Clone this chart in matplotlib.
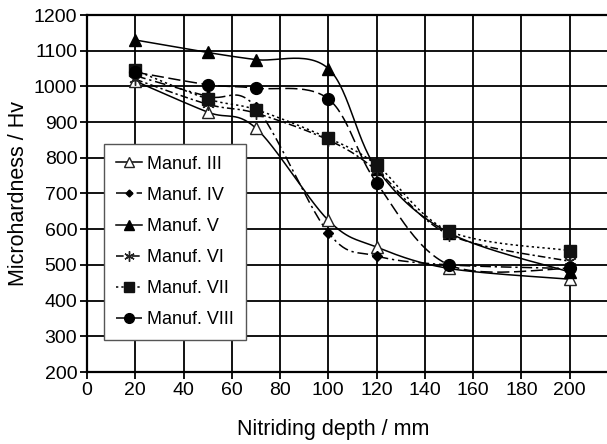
import matplotlib.pyplot as plt
import numpy as np

plt.rcParams['font.family'] = ['Liberation Sans', 'DejaVu Sans']

depth = [20, 50, 70, 100, 120, 150, 200]
manuf_3 = [1015, 928, 883, 625, 550, 490, 460]
manuf_4 = [1030, 972, 942, 590, 525, 500, 490]
manuf_5 = [1130, 1095, 1075, 1050, 770, 590, 480]
manuf_6 = [1020, 950, 925, 850, 765, 585, 510]
manuf_7 = [1045, 965, 935, 855, 780, 595, 540]
manuf_8 = [1040, 1005, 995, 965, 730, 500, 490]
labels = ['Manuf. III', 'Manuf. IV', 'Manuf. V', 'Manuf. VI', 'Manuf. VII', 'Manuf. VIII']


def smooth(x, y, n=30):
    # spreadsheet-style smoothed line (Catmull-Rom bezier), only for drawing
    x = np.asarray(x, float)
    y = np.asarray(y, float)
    px = np.concatenate([[x[0]], x, [x[-1]]])
    py = np.concatenate([[y[0]], y, [y[-1]]])
    xs, ys = [], []
    t = np.linspace(0, 1, n)
    for i in range(1, len(px) - 2):
        p0 = np.array([px[i], py[i]])
        p3 = np.array([px[i + 1], py[i + 1]])
        p1 = p0 + (p3 - np.array([px[i - 1], py[i - 1]])) / 6
        p2 = p3 - (np.array([px[i + 2], py[i + 2]]) - p0) / 6
        b = ((1 - t) ** 3)[:, None] * p0 + (3 * (1 - t) ** 2 * t)[:, None] * p1 \
            + (3 * (1 - t) * t ** 2)[:, None] * p2 + (t ** 3)[:, None] * p3
        xs.extend(b[:, 0])
        ys.extend(b[:, 1])
    return xs, ys


fig = plt.figure(figsize=(6.07, 4.44), dpi=100)
ax = fig.add_axes([87 / 607, 1 - 372 / 444, 1 - 87 / 607 + 0.002, (372 - 15) / 444])

series = [
    (manuf_3, dict(marker='^', ms=8, mfc='white', mec='#222222', ls='-')),
    (manuf_4, dict(marker='D', ms=5, mfc='black', mec='black', ls=(0, (7, 2.5, 1.5, 2.5)))),
    (manuf_5, dict(marker='^', ms=8, mfc='black', mec='black', ls='-')),
    (manuf_6, dict(marker=(6, 2, 0), ms=9, mfc='black', mec='#222222', mew=1.0, ls=(0, (5, 2, 1.5, 2)))),
    (manuf_7, dict(marker='s', ms=9, mfc='#111111', mec='#111111', ls=(0, (1.5, 2)))),
    (manuf_8, dict(marker='o', ms=8.5, mfc='black', mec='black', ls=(0, (8, 3)))),
]

handles = []
for (vals, st), lab in zip(series, labels):
    sx, sy = smooth(depth, vals)
    ax.plot(sx, sy, color='black', lw=1.1, ls=st['ls'], zorder=3)
    ax.plot(depth, vals, ls='none', marker=st['marker'], ms=st['ms'], mfc=st['mfc'],
            mec=st['mec'], mew=st.get('mew', 1.0), zorder=4)
    h, = ax.plot([], [], color='black', lw=1.1, ls=st['ls'], marker=st['marker'], ms=st['ms'] - 1.5,
                 mfc=st['mfc'], mec=st['mec'], mew=st.get('mew', 1.0))
    handles.append(h)

ax.set_xlim(0, 216)
ax.set_ylim(200, 1200)
ax.set_xticks(range(0, 201, 20))
ax.set_yticks(range(200, 1201, 100))
ax.grid(True, color='black', lw=1.3)
ax.set_axisbelow(True)
for side in ['top', 'left', 'bottom']:
    ax.spines[side].set_linewidth(1.6)
ax.spines['right'].set_visible(False)
ax.tick_params(direction='out', length=5, width=1.3, labelsize=14, pad=2)

ax.set_xlabel('Nitriding depth / mm', fontsize=15.5)
ax.xaxis.set_label_coords((333 - 87) / 520, -(419 - 372) / 357)
ax.set_ylabel('Microhardness / Hv', fontsize=15.5)
ax.yaxis.set_label_coords(-(87 - 29) / 520, 0.5)

leg = ax.legend(handles, labels, loc='upper left', bbox_to_anchor=((104 - 87) / 520, 1 - (144 - 15) / 357),
                fontsize=13, frameon=True, fancybox=False, edgecolor='#555555', framealpha=1,
                handlelength=1.45, handletextpad=0.3, labelspacing=0.78, borderpad=0.65,
                borderaxespad=0)
leg.get_frame().set_linewidth(1.0)

fig.savefig('out.png', dpi=100)
